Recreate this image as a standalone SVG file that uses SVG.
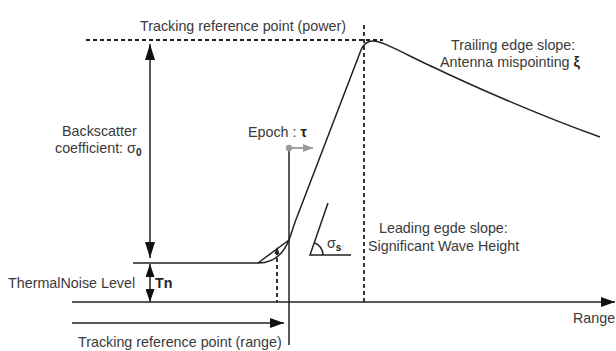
<svg xmlns="http://www.w3.org/2000/svg" width="616" height="351" viewBox="0 0 616 351">
<style>
text{font-family:"Liberation Sans",Arial,sans-serif;font-size:14.3px;fill:#3a3a3a}
.b{font-weight:bold;fill:#222}
.ln{stroke:#222;stroke-width:1.5;fill:none}
.dash{stroke:#222;stroke-width:1.8;fill:none;stroke-dasharray:4 3}
</style>
<defs>
<marker id="ahBig" markerUnits="userSpaceOnUse" markerWidth="16" markerHeight="10" refX="16" refY="5" orient="auto-start-reverse" viewBox="0 0 16 10"><path d="M0,0 L16,5 L0,10 Z" fill="#111"/></marker>
<marker id="ahMed" markerUnits="userSpaceOnUse" markerWidth="14" markerHeight="10" refX="14" refY="5" orient="auto-start-reverse" viewBox="0 0 14 10"><path d="M0,0 L14,5 L0,10 Z" fill="#111"/></marker>
<marker id="ahSm" markerUnits="userSpaceOnUse" markerWidth="13" markerHeight="9" refX="13" refY="4.5" orient="auto-start-reverse" viewBox="0 0 13 9"><path d="M0,0 L13,4.5 L0,9 Z" fill="#111"/></marker>
<marker id="ahGray" markerUnits="userSpaceOnUse" markerWidth="10" markerHeight="8" refX="10" refY="4" orient="auto" viewBox="0 0 10 8"><path d="M0,0 L10,4 L0,8 Z" fill="#999"/></marker>
</defs>

<g id="connectors">
<line class="dash" x1="86" y1="40" x2="383" y2="40"/>
<line class="dash" x1="364" y1="25" x2="364" y2="302"/>
<line class="dash" x1="277" y1="251" x2="277" y2="302"/>
<path d="M274.5,254 L277,247 L279.5,254 Z" fill="#222"/>
<line class="ln" x1="150" y1="44" x2="150" y2="258" marker-start="url(#ahBig)" marker-end="url(#ahBig)"/>
<line class="ln" x1="150" y1="264" x2="150" y2="302" marker-start="url(#ahSm)" marker-end="url(#ahSm)"/>
<line class="ln" x1="72" y1="302" x2="615" y2="302" marker-end="url(#ahMed)"/>
<line class="ln" x1="72" y1="323" x2="284" y2="323" marker-end="url(#ahMed)"/>
<line class="ln" x1="289" y1="148" x2="289" y2="345"/>
<line x1="289" y1="148" x2="313" y2="148" stroke="#999" stroke-width="1.8" marker-end="url(#ahGray)"/>
<circle cx="289" cy="148" r="3.2" fill="#999"/>
</g>

<g id="waveform">
<path class="ln" d="M133,263 L258,263 C272,263 283,255 289,240 C292,232 294,224 297,217 L361,50 C364,43 368,41 373,41 C380,41 392,47 410,56 C420,61 428,65 433,67 C460,80 530,112 600,137"/>
<line class="ln" x1="258" y1="263" x2="289" y2="240"/>
</g>

<g id="angle">
<path class="ln" d="M328,203 L310,255 L351,255"/>
<path class="ln" d="M323,255 A13,13 0 0 0 314.3,242.7"/>
</g>

<g id="labels">
<text x="140" y="31">Tracking reference point (power)</text>
<text x="62" y="136">Backscatter</text>
<text x="55" y="153">coefficient: σ<tspan class="b" font-size="10" dy="3">0</tspan></text>
<text x="248" y="137">Epoch : <tspan class="b">τ</tspan></text>
<text x="451" y="50">Trailing edge slope:</text>
<text x="440" y="67">Antenna mispointing  <tspan class="b">ξ</tspan></text>
<text x="379" y="233">Leading egde slope:</text>
<text x="368" y="251">Significant Wave Height</text>
<text x="327" y="248">σ<tspan class="b" font-size="10" dy="3">s</tspan></text>
<text x="8" y="288">ThermalNoise Level</text>
<text x="155" y="288" class="b">Tn</text>
<text x="573" y="323">Range</text>
<text x="78" y="347">Tracking reference point (range)</text>
</g>
</svg>
